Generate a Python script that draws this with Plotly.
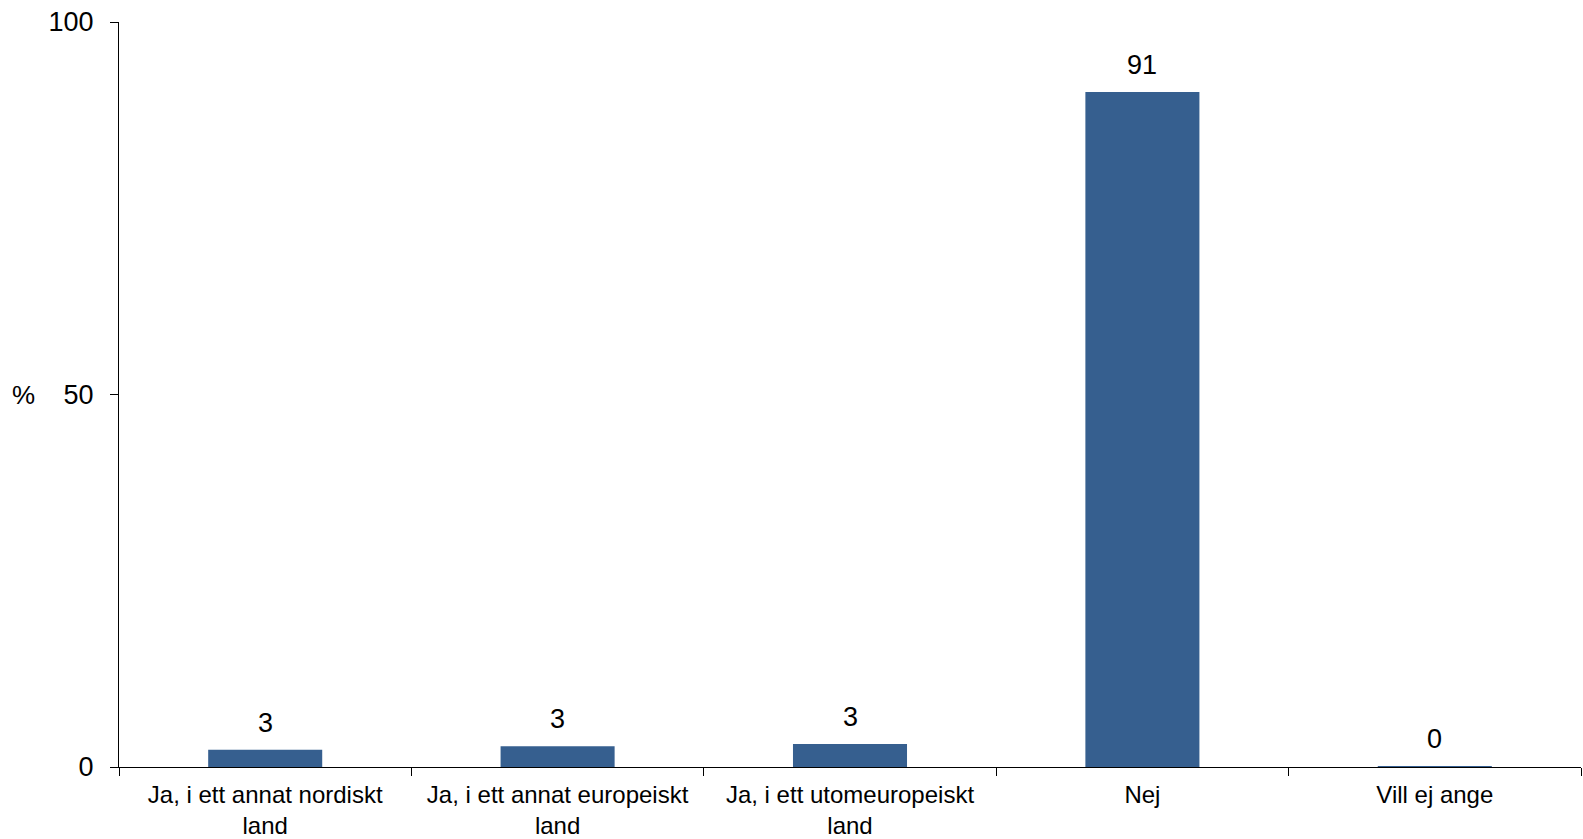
import plotly.graph_objects as go

categories = [
    "Ja, i ett annat nordiskt<br>land",
    "Ja, i ett annat europeiskt<br>land",
    "Ja, i ett utomeuropeiskt<br>land",
    "Nej",
    "Vill ej ange",
]
values = [2.3, 2.8, 3.1, 90.6, 0.1]
labels = ["3", "3", "3", "91", "0"]
y_ticks = [0, 50, 100]

FONT = "Arial, Liberation Sans, sans-serif"
BAR_COLOR = "#365F8F"

fig = go.Figure(
    go.Bar(
        x=categories,
        y=values,
        marker=dict(color=BAR_COLOR, line=dict(width=0)),
        width=0.39,
        hoverinfo="skip",
    )
)

for c, v, t in zip(categories, values, labels):
    fig.add_annotation(
        x=c, y=v, text=t, showarrow=False, yanchor="bottom", yshift=10,
        font=dict(family=FONT, size=27, color="black"),
    )

fig.add_annotation(
    xref="paper", yref="paper", x=-0.065, y=0.5, text="%", showarrow=False,
    xanchor="center", yanchor="middle",
    font=dict(family=FONT, size=26, color="black"),
)

fig.update_layout(
    width=1583,
    height=839,
    margin=dict(l=119, r=2, t=22, b=72),
    paper_bgcolor="white",
    plot_bgcolor="white",
    showlegend=False,
    font=dict(family=FONT, size=24, color="black"),
)

fig.update_xaxes(
    type="category",
    automargin=False,
    showline=True, linecolor="black", linewidth=1,
    ticks="outside", tickson="boundaries", ticklen=8, tickcolor="black",
    ticklabelstandoff=6,
    showgrid=False, zeroline=False,
    tickfont=dict(family=FONT, size=24, color="black"),
)
fig.update_yaxes(
    range=[0, 100],
    automargin=False,
    ticklabeloverflow="allow",
    tickvals=y_ticks,
    showline=True, linecolor="black", linewidth=1,
    ticks="outside", ticklen=8, tickcolor="black",
    ticklabelstandoff=11,
    showgrid=False, zeroline=False,
    tickfont=dict(family=FONT, size=27, color="black"),
)

fig.write_html(
    "out.html",
    config={"displayModeBar": False},
    post_script="document.body.style.margin='0';document.body.style.overflow='hidden';",
)
